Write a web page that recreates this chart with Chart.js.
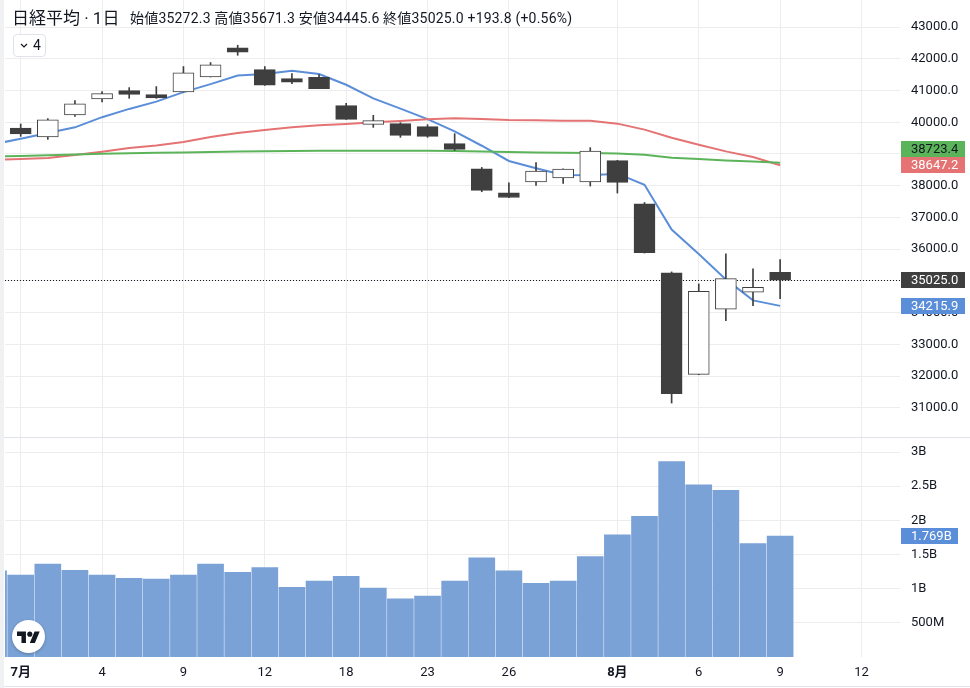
<!DOCTYPE html>
<html lang="ja">
<head>
<meta charset="utf-8">
<title>日経平均 · 1日</title>
<script src="https://cdn.jsdelivr.net/npm/chart.js@4.4.1/dist/chart.umd.min.js"></script>
<style>
  body { margin: 0; background: #fff; font-family: Roboto, "Noto Sans CJK JP", sans-serif; color: #131722; }
  #wrap { position: relative; width: 970px; height: 688px; overflow: hidden; }
  #strip { position: absolute; left: 0; top: 0; width: 4px; height: 688px; background: #f0f1f3; }
  #priceCanvas { position: absolute; left: 0; top: 0; }
  #sep { position: absolute; left: 4px; top: 437px; width: 966px; height: 1px; background: #e0e3eb; }
  #volCanvas { position: absolute; left: 0; top: 438px; }
  #bottomLine { position: absolute; left: 4px; top: 686px; width: 966px; height: 1px; background: #e0e3eb; }
  #title { position: absolute; left: 12px; top: 6px; font-size: 17px; line-height: 24px; white-space: nowrap; }
  #ohlc { position: absolute; left: 130px; top: 9px; font-size: 14px; line-height: 18px; white-space: nowrap; letter-spacing: 0.2px; }
  #btn { position: absolute; left: 13px; top: 34px; width: 31px; height: 21px; border: 1px solid #e0e3eb;
         border-radius: 4px; background: #fff; font-size: 14px; line-height: 21px; }
  #btn svg { position: absolute; left: 6px; top: 8px; }
  #btn span { position: absolute; left: 19px; top: 0; }
  #logo { position: absolute; left: 12px; top: 620px; width: 33px; height: 33px; border-radius: 50%;
          background: #fff; box-shadow: 0 1px 3px rgba(0, 0, 0, 0.25); }
  #logo svg { position: absolute; left: 5px; top: 9px; }
</style>
</head>
<body>
<div id="wrap">
  <div id="strip"></div>
  <canvas id="priceCanvas" width="970" height="437"></canvas>
  <div id="sep"></div>
  <canvas id="volCanvas" width="970" height="250"></canvas>
  <div id="bottomLine"></div>
  <div id="title">日経平均 · 1日</div>
  <div id="ohlc">始値35272.3 高値35671.3 安値34445.6 終値35025.0 +193.8 (+0.56%)</div>
  <div id="btn">
    <svg width="8" height="5" viewBox="0 0 8 5"><polyline points="1,1 4,4 7,1" fill="none" stroke="#131722" stroke-width="1.2"/></svg>
    <span>4</span>
  </div>
  <div id="logo">
    <svg width="23" height="18" viewBox="0 0 36 28">
      <path d="M14 22H7V11H0V4h14v18zM28 22h-8l7.5-18h8L28 22z" fill="#131722"/>
      <circle cx="20" cy="8" r="4" fill="#131722"/>
    </svg>
  </div>
</div>

<script>
// Trading days (6/28 is only partly visible at the left edge)
const days = [
  "6/28", "7/1", "7/2", "7/3", "7/4", "7/5", "7/8", "7/9", "7/10", "7/11",
  "7/12", "7/16", "7/17", "7/18", "7/19", "7/22", "7/23", "7/24", "7/25", "7/26",
  "7/29", "7/30", "7/31", "8/1", "8/2", "8/5", "8/6", "8/7", "8/8", "8/9",
];

// Candles, 7/1 .. 8/9
const opens = [
  39820, 39536, 40230, 40735, 40997, 40871, 40956, 41429, 42345, 41659,
  41375, 41416, 40524, 39934, 39956, 39861, 39325, 38536, 37779, 38117,
  38243, 38117, 38789, 37432, 35256, 32060, 34110, 34647, 35272.3,
];
const highs = [
  39946, 40114, 40681, 40965, 41091, 41123, 41754, 41880, 42426, 41754,
  41533, 41502, 40596, 40218, 39987, 39924, 39640, 38577, 38095, 38726,
  38530, 39199, 38800, 37473, 35287, 34909, 35855, 35382, 35671.3,
];
const lows = [
  39555, 39461, 40186, 40640, 40754, 40754, 40950, 41425, 42110, 41160,
  41218, 41055, 40088, 39839, 39524, 39524, 39114, 37811, 37625, 38009,
  38073, 37991, 37770, 35880, 31156, 32050, 33751, 34221, 34445.6,
];
const closes = [
  39631, 40074, 40577, 40902, 40880, 40766, 41555, 41808, 42208, 41164,
  41259, 41060, 40091, 40050, 39587, 39555, 39145, 37852, 37631, 38464,
  38527, 39095, 38104, 35896, 31448, 34678, 35076, 34804, 35025.0,
];

// Moving averages, 6/28 .. 8/9
const ma5 = [
  39310, 39480, 39660, 39840, 40160, 40420, 40650, 40950, 41200, 41470,
  41520, 41620, 41520, 41180, 40750, 40430, 40100, 39710, 39260, 38780,
  38550, 38340, 38330, 38380, 38030, 36620, 35850, 35050, 34390, 34215.9,
];
const ma25 = [
  38810, 38842, 38874, 38968, 39073, 39189, 39271, 39379, 39536, 39662,
  39757, 39839, 39909, 39946, 39997, 40041, 40092, 40123, 40100, 40070,
  40060, 40050, 40050, 39956, 39767, 39514, 39293, 39082, 38905, 38647.2,
];
const ma75 = [
  38920, 38937, 38960, 38985, 39009, 39025, 39038, 39050, 39066, 39082,
  39090, 39098, 39104, 39104, 39104, 39104, 39104, 39095, 39082, 39066,
  39050, 39040, 39031, 39016, 38978, 38883, 38842, 38798, 38767, 38723.4,
];

// Volume in billions, 6/28 .. 8/9
const volume = [
  1.26, 1.20, 1.36, 1.27, 1.20, 1.15, 1.14, 1.20, 1.36, 1.24,
  1.31, 1.02, 1.11, 1.18, 1.01, 0.85, 0.89, 1.11, 1.45, 1.26,
  1.08, 1.11, 1.47, 1.79, 2.06, 2.86, 2.52, 2.44, 1.66, 1.769,
];

// Axis ticks
const dateTickIdx = [0, 3, 6, 9, 12, 15, 18, 22, 25, 28, 31];
const dateTickLabels = ["7月", "4", "9", "12", "18", "23", "26", "8月", "6", "9", "12"];
const priceTicks = [31000, 32000, 33000, 34000, 35000, 36000, 37000, 38000, 39000, 40000, 41000, 42000, 43000];
const volTicks = [0.5, 1, 1.5, 2, 2.5, 3];
const volTickLabels = ["500M", "1B", "1.5B", "2B", "2.5B", "3B"];

// Colours
const DARK = "#3f3f3f";
const BLUE = "#5b8ed8";
const RED = "#e57373";
const GREEN = "#5cb45a";
const VOL = "#7aa2d6";
const GRID = "#ededed";
const TEXT = "#131722";
const FONT = 'Roboto, "Noto Sans CJK JP", sans-serif';

// Shared horizontal range (index units)
const X_MIN = -0.579;
const X_MAX = 32.42;

// Stop Chart.js from padding the plot area for tick labels
function noPadding(scale) {
  scale.paddingTop = 0;
  scale.paddingBottom = 0;
  scale.paddingLeft = 0;
  scale.paddingRight = 0;
}

// Draw a coloured price tag on the right axis
function drawTag(ctx, area, y, text, bg, fg, width) {
  const top = Math.round(y) - 8;
  ctx.save();
  ctx.fillStyle = bg;
  ctx.fillRect(area.right + 1, top, width, 16);
  ctx.fillStyle = fg;
  ctx.font = "13px " + FONT;
  ctx.textAlign = "left";
  ctx.textBaseline = "middle";
  ctx.fillText(text, area.right + 11, top + 8.5);
  ctx.restore();
}

// Last-value tags and dotted last-price line for the price pane
const priceTags = {
  id: "priceTags",
  beforeDatasetsDraw(chart) {
    const ctx = chart.ctx;
    const area = chart.chartArea;
    const y = Math.round(chart.scales.y.getPixelForValue(closes[closes.length - 1])) + 0.5;
    ctx.save();
    ctx.strokeStyle = TEXT;
    ctx.lineWidth = 1;
    ctx.setLineDash([1, 2]);
    ctx.beginPath();
    ctx.moveTo(area.left, y);
    ctx.lineTo(area.right, y);
    ctx.stroke();
    ctx.restore();
  },
  afterDraw(chart) {
    const scale = chart.scales.y;
    const tags = [
      { v: ma75[ma75.length - 1], bg: GREEN, fg: TEXT },
      { v: ma25[ma25.length - 1], bg: RED, fg: "#fff" },
      { v: closes[closes.length - 1], bg: DARK, fg: "#fff" },
      { v: ma5[ma5.length - 1], bg: BLUE, fg: "#fff" },
    ].map((t) => ({ ...t, y: scale.getPixelForValue(t.v) }));

    // Push overlapping tags upwards
    tags.sort((a, b) => a.y - b.y);
    for (let i = tags.length - 2; i >= 0; i--) {
      if (tags[i].y > tags[i + 1].y - 16) {
        tags[i].y = tags[i + 1].y - 16;
      }
    }
    tags.forEach((t) => drawTag(chart.ctx, chart.chartArea, t.y, t.v.toFixed(1), t.bg, t.fg, 64));
  },
};

// Last-value tag for the volume pane
const volTag = {
  id: "volTag",
  afterDraw(chart) {
    const v = volume[volume.length - 1];
    const y = chart.scales.y.getPixelForValue(v);
    drawTag(chart.ctx, chart.chartArea, y, v.toFixed(3) + "B", BLUE, "#fff", 57);
  },
};

// Price pane: candles plus three moving averages
function buildPriceChart() {
  const ctx = document.getElementById("priceCanvas").getContext("2d");
  const maLine = (values, color) => ({
    type: "line",
    data: values.map((v, i) => ({ x: i - 1, y: v })),
    borderColor: color,
    borderWidth: 2,
    pointRadius: 0,
    tension: 0,
    order: 3,
  });

  return new Chart(ctx, {
    type: "bar",
    data: {
      datasets: [
        maLine(ma75, GREEN),
        maLine(ma25, RED),
        maLine(ma5, BLUE),
        {
          // wicks
          type: "bar",
          data: closes.map((c, i) => ({ x: i, y: [lows[i], highs[i]] })),
          backgroundColor: DARK,
          barThickness: 1,
          grouped: false,
          order: 2,
        },
        {
          // bodies
          type: "bar",
          data: closes.map((c, i) => ({ x: i, y: [opens[i], c] })),
          backgroundColor: closes.map((c, i) => (c >= opens[i] ? "#ffffff" : DARK)),
          borderColor: DARK,
          borderWidth: 1,
          borderSkipped: false,
          barThickness: 21,
          grouped: false,
          order: 1,
        },
      ],
    },
    options: {
      responsive: false,
      animation: false,
      layout: { padding: { left: 5, top: 0, right: 0, bottom: 0 } },
      plugins: { legend: { display: false }, tooltip: { enabled: false } },
      scales: {
        x: {
          type: "linear",
          offset: false,
          min: X_MIN,
          max: X_MAX,
          afterBuildTicks: (scale) => {
            scale.ticks = dateTickIdx.map((v) => ({ value: v }));
          },
          ticks: { display: false },
          grid: { color: GRID, drawTicks: false, offset: false },
          border: { display: false },
          afterFit: (scale) => {
            scale.height = 0;
            noPadding(scale);
          },
        },
        y: {
          position: "right",
          min: 30086.6,
          max: 43850.4,
          afterBuildTicks: (scale) => {
            scale.ticks = priceTicks.map((v) => ({ value: v }));
          },
          ticks: {
            callback: (v) => v.toFixed(1),
            color: TEXT,
            padding: 11,
            font: { size: 13, family: FONT },
          },
          grid: { color: GRID, drawTicks: false },
          border: { display: false },
          afterFit: (scale) => {
            scale.width = 70;
            noPadding(scale);
          },
        },
      },
    },
    plugins: [priceTags],
  });
}

// Volume pane with the shared date axis
function buildVolumeChart() {
  const ctx = document.getElementById("volCanvas").getContext("2d");
  return new Chart(ctx, {
    type: "bar",
    data: {
      datasets: [
        {
          data: volume.map((v, i) => ({ x: i - 1, y: v })),
          backgroundColor: VOL,
          barThickness: 26,
          grouped: false,
        },
      ],
    },
    options: {
      responsive: false,
      animation: false,
      layout: { padding: { left: 5, top: 0, right: 0, bottom: 0 } },
      plugins: { legend: { display: false }, tooltip: { enabled: false } },
      scales: {
        x: {
          type: "linear",
          offset: false,
          min: X_MIN,
          max: X_MAX,
          afterBuildTicks: (scale) => {
            scale.ticks = dateTickIdx.map((v) => ({ value: v }));
          },
          ticks: {
            callback: (v) => dateTickLabels[dateTickIdx.indexOf(v)],
            color: TEXT,
            padding: 8,
            maxRotation: 0,
            autoSkip: false,
            font: (c) => ({
              size: 13,
              family: FONT,
              weight: c.tick && String(dateTickLabels[dateTickIdx.indexOf(c.tick.value)]).includes("月") ? "bold" : "normal",
            }),
          },
          grid: { color: GRID, drawTicks: false, offset: false },
          border: { display: false },
          afterFit: (scale) => {
            scale.height = 31;
            noPadding(scale);
          },
        },
        y: {
          position: "right",
          min: 0,
          max: 3.206,
          afterBuildTicks: (scale) => {
            scale.ticks = volTicks.map((v) => ({ value: v }));
          },
          ticks: {
            callback: (v) => volTickLabels[volTicks.indexOf(v)],
            color: TEXT,
            padding: 11,
            font: { size: 13, family: FONT },
          },
          grid: { color: GRID, drawTicks: false },
          border: { display: false },
          afterFit: (scale) => {
            scale.width = 70;
            noPadding(scale);
          },
        },
      },
    },
    plugins: [volTag],
  });
}

buildPriceChart();
buildVolumeChart();
</script>
</body>
</html>
